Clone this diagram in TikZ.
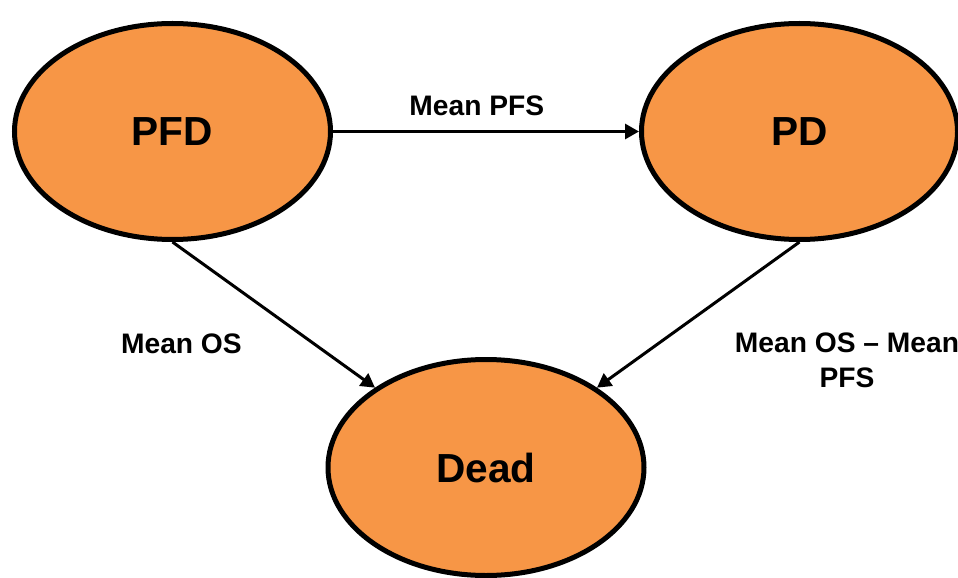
\documentclass[tikz,border=0pt]{standalone}
\usepackage{fontspec}
\setmainfont{Liberation Sans}
\usetikzlibrary{arrows.meta, positioning, calc, shapes.geometric}
\definecolor{stateorange}{HTML}{F79646}

\begin{document}
\begin{tikzpicture}[
    state/.style={ellipse, draw, line width=5pt, fill=stateorange, minimum width=316pt,
                  minimum height=216pt, font=\fontsize{40.6}{44}\selectfont\bfseries},
    arrow/.style={-{Triangle[length=14pt, width=15pt]}, line width=3pt},
    lbl/.style={font=\fontsize{28.2}{35}\selectfont\bfseries, align=center, inner sep=0pt},
]
\useasboundingbox (-172.5pt,131.5pt) rectangle (785.5pt,-446.5pt);
\node[state] (pfd) {PFD};
\node[state, right=306pt of pfd] (pd) {PD};
\coordinate (mid) at ($(pfd)!0.5!(pd)$);
\node[state, below=225.5pt of mid] (dead) {Dead};

\draw[arrow] (pfd) -- node[lbl, pos=0.47, above=14pt] {Mean PFS} (pd);
\draw[arrow] (pfd.south) -- node[lbl, pos=0.7, left=71pt] {Mean OS} (dead);
\draw[arrow] (pd.south) -- node[lbl, pos=0.81, right=98pt] {Mean OS -- Mean\\PFS} (dead);
\end{tikzpicture}
\end{document}
